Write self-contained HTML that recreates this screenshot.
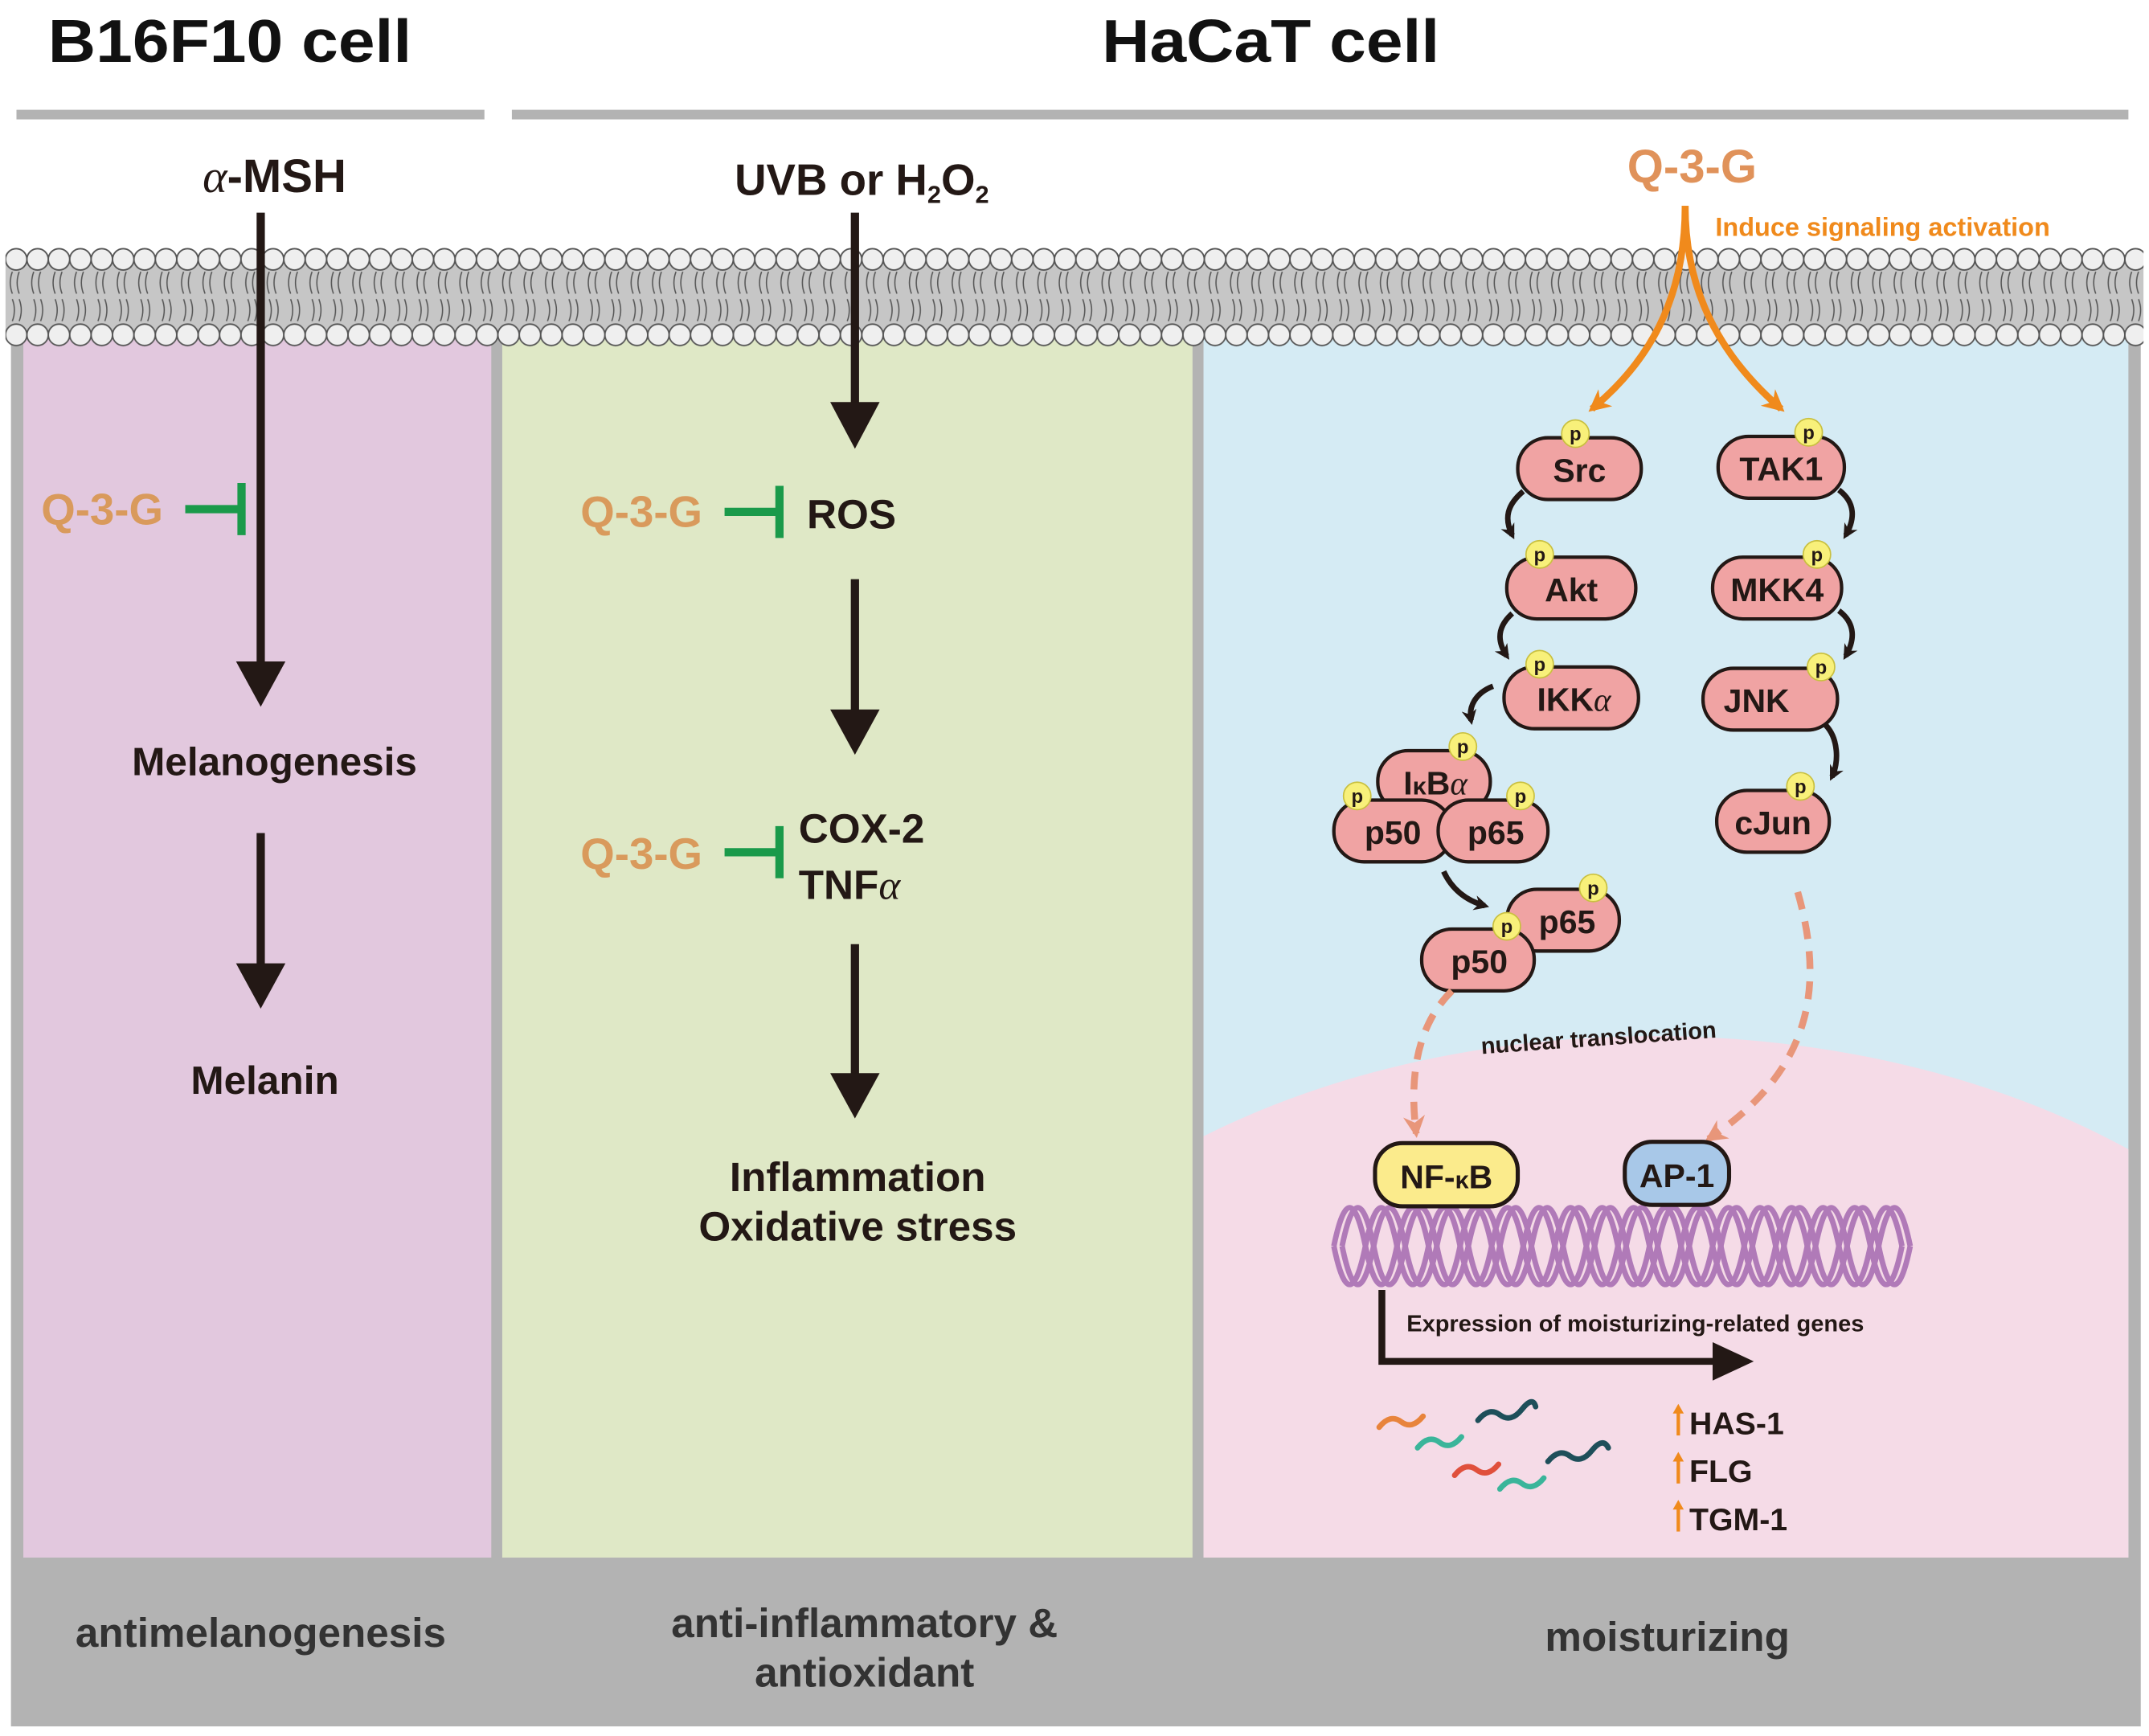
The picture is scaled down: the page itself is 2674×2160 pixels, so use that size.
<!DOCTYPE html>
<html><head><meta charset="utf-8"><style>
html,body{margin:0;padding:0;background:#fff;width:2674px;height:2160px;overflow:hidden;}
svg{display:block;position:absolute;left:0;top:0;}
text{font-family:"Liberation Sans",Arial,sans-serif;font-weight:bold;}
</style></head><body>
<svg width="2674" height="2160" viewBox="0 0 1566 1265" preserveAspectRatio="none" xmlns="http://www.w3.org/2000/svg">
<defs>
<pattern id="mem" x="4" y="176" width="15.6" height="80" patternUnits="userSpaceOnUse">
<rect x="0" y="14" width="15.6" height="52" fill="#c6c6c6"/>
<path d="M5 22 q-3 8 0 16 M10 22 q-3 8 0 16 M5 42 q3 8 0 16 M10 42 q3 8 0 16" stroke="#555" stroke-width="0.9" fill="none"/>
<circle cx="7.8" cy="13" r="7.8" fill="#efefef" stroke="#555" stroke-width="1.1"/>
<circle cx="7.8" cy="68" r="7.8" fill="#efefef" stroke="#555" stroke-width="1.1"/>
</pattern>
<marker id="oh" viewBox="0 0 10 10" refX="8" refY="5" markerWidth="16" markerHeight="16" orient="auto" markerUnits="userSpaceOnUse"><path d="M0 0 L10 5 L0 10 L3 5z" fill="#f08a1c"/></marker>
<marker id="ph" viewBox="0 0 10 10" refX="8" refY="5" markerWidth="16" markerHeight="16" orient="auto" markerUnits="userSpaceOnUse"><path d="M0 0 L10 5 L0 10 L3 5z" fill="#e8967a"/></marker>
<marker id="bh" viewBox="0 0 10 10" refX="7" refY="5" markerWidth="11" markerHeight="11" orient="auto" markerUnits="userSpaceOnUse"><path d="M0 0 L10 5 L0 10 L3 5z" fill="#231815"/></marker>
<clipPath id="blue"><rect x="877" y="245" width="674" height="890"/></clipPath>
<path id="sw" d="M0 0 q11.5 -56 23 0 t23 0 t23 0 t23 0 t23 0 t23 0 t23 0 t23 0 t23 0 t23 0 t23 0 t23 0 t23 0 t23 0 t23 0 t23 0 t23 0 t23 0"/>
<path id="sw2" d="M0 0 q11.5 56 23 0 t23 0 t23 0 t23 0 t23 0 t23 0 t23 0 t23 0 t23 0 t23 0 t23 0 t23 0 t23 0 t23 0 t23 0 t23 0 t23 0 t23 0"/>
</defs>

<text x="35" y="45" font-size="44" textLength="265" lengthAdjust="spacingAndGlyphs" fill="#111">B16F10 cell</text>
<text x="803" y="45" font-size="44" textLength="246" lengthAdjust="spacingAndGlyphs" fill="#111">HaCaT cell</text>
<rect x="12" y="80" width="341" height="7" fill="#b3b3b3"/>
<rect x="373" y="80" width="1178" height="7" fill="#b3b3b3"/>

<rect x="8" y="240" width="1552" height="1018" fill="#b3b3b3"/>
<rect x="17" y="240" width="341" height="895" fill="#e2c8de"/>
<rect x="366" y="240" width="503" height="895" fill="#dfe8c6"/>
<rect x="877" y="240" width="674" height="895" fill="#d5ebf4"/>
<ellipse cx="1205" cy="1110" rx="540" ry="355" fill="#f5dbe7" clip-path="url(#blue)"/>

<rect x="4" y="176" width="1558" height="80" fill="url(#mem)"/>

<text x="190" y="1200" font-size="30" text-anchor="middle" fill="#333">antimelanogenesis</text>
<text x="630" y="1193" font-size="30" text-anchor="middle" fill="#333">anti-inflammatory &amp;</text>
<text x="630" y="1229" font-size="30" text-anchor="middle" fill="#333">antioxidant</text>
<text x="1215" y="1203" font-size="30" text-anchor="middle" fill="#333">moisturizing</text>

<text x="200" y="140" font-size="34" text-anchor="middle" fill="#231815"><tspan font-family="Liberation Serif" font-weight="normal" font-style="italic">α</tspan>-MSH</text>
<line x1="190" y1="155" x2="190" y2="485" stroke="#231815" stroke-width="6"/>
<path d="M172 482 L208 482 L190 515z" fill="#231815"/>
<text x="30" y="382" font-size="32" fill="#d99a5c">Q-3-G</text>
<line x1="135" y1="371" x2="176" y2="371" stroke="#1a9a4a" stroke-width="6"/>
<line x1="176" y1="352" x2="176" y2="390" stroke="#1a9a4a" stroke-width="6"/>
<text x="200" y="565" font-size="29" text-anchor="middle" fill="#231815">Melanogenesis</text>
<line x1="190" y1="607" x2="190" y2="705" stroke="#231815" stroke-width="6"/>
<path d="M172 702 L208 702 L190 735z" fill="#231815"/>
<text x="193" y="797" font-size="29" text-anchor="middle" fill="#231815">Melanin</text>

<text x="628" y="142" font-size="32" text-anchor="middle" fill="#231815">UVB or H<tspan font-size="18" dy="6">2</tspan><tspan dy="-6">O</tspan><tspan font-size="18" dy="6">2</tspan></text>
<line x1="623" y1="155" x2="623" y2="296" stroke="#231815" stroke-width="6"/>
<path d="M605 293 L641 293 L623 327z" fill="#231815"/>
<text x="423" y="384" font-size="32" fill="#d99a5c">Q-3-G</text>
<line x1="528" y1="373" x2="568" y2="373" stroke="#1a9a4a" stroke-width="6"/>
<line x1="568" y1="354" x2="568" y2="392" stroke="#1a9a4a" stroke-width="6"/>
<text x="588" y="385" font-size="30" fill="#231815">ROS</text>
<line x1="623" y1="422" x2="623" y2="520" stroke="#231815" stroke-width="6"/>
<path d="M605 517 L641 517 L623 550z" fill="#231815"/>
<text x="423" y="633" font-size="32" fill="#d99a5c">Q-3-G</text>
<line x1="528" y1="621" x2="568" y2="621" stroke="#1a9a4a" stroke-width="6"/>
<line x1="568" y1="602" x2="568" y2="640" stroke="#1a9a4a" stroke-width="6"/>
<text x="582" y="614" font-size="30" fill="#231815">COX-2</text>
<text x="582" y="655" font-size="30" fill="#231815">TNF<tspan font-family="Liberation Serif" font-weight="normal" font-style="italic">α</tspan></text>
<line x1="623" y1="688" x2="623" y2="785" stroke="#231815" stroke-width="6"/>
<path d="M605 782 L641 782 L623 815z" fill="#231815"/>
<text x="625" y="868" font-size="30" text-anchor="middle" fill="#231815">Inflammation</text>
<text x="625" y="904" font-size="30" text-anchor="middle" fill="#231815">Oxidative stress</text>

<text x="1233" y="133" font-size="34" text-anchor="middle" fill="#e0925a">Q-3-G</text>
<text x="1250" y="172" font-size="19" fill="#f08a1c">Induce signaling activation</text>
<path d="M1228 150 C1228 220 1200 265 1160 298" stroke="#f08a1c" stroke-width="5" fill="none" marker-end="url(#oh)"/>
<path d="M1228 150 C1228 220 1260 265 1298 298" stroke="#f08a1c" stroke-width="5" fill="none" marker-end="url(#oh)"/>

<g stroke="#231815" stroke-width="4" fill="none" marker-end="url(#bh)">
<path d="M1110 358 C1098 368 1096 378 1102 390"/>
<path d="M1102 447 C1092 456 1090 466 1098 478"/>
<path d="M1088 500 C1075 505 1070 515 1072 525"/>
<path d="M1340 357 C1352 366 1352 378 1345 390"/>
<path d="M1340 445 C1352 454 1352 466 1345 478"/>
<path d="M1330 528 C1340 538 1340 556 1335 566"/>
<path d="M1052 635 C1058 648 1068 656 1082 660"/>
</g>

<g stroke="#231815" stroke-width="2.5" fill="#f0a3a3">
<rect x="1106" y="319" width="90" height="45" rx="22"/>
<rect x="1252" y="318" width="92" height="45" rx="22"/>
<rect x="1098" y="406" width="94" height="45" rx="22"/>
<rect x="1248" y="406" width="94" height="45" rx="22"/>
<rect x="1096" y="486" width="98" height="45" rx="22"/>
<rect x="1241" y="487" width="98" height="45" rx="22"/>
<rect x="1251" y="576" width="82" height="45" rx="22"/>
<rect x="1004" y="547" width="82" height="45" rx="22"/>
<rect x="972" y="583" width="86" height="45" rx="22"/>
<rect x="1048" y="583" width="80" height="45" rx="22"/>
<rect x="1098" y="648" width="82" height="45" rx="22"/>
<rect x="1036" y="677" width="82" height="45" rx="22"/>
</g>
<g font-size="24" fill="#231815" text-anchor="middle">
<text x="1151" y="351">Src</text>
<text x="1298" y="350">TAK1</text>
<text x="1145" y="438">Akt</text>
<text x="1295" y="438">MKK4</text>
<text x="1147" y="518">IKK<tspan font-family="Liberation Serif" font-weight="normal" font-style="italic">α</tspan></text>
<text x="1280" y="519">JNK</text>
<text x="1292" y="608">cJun</text>
<text x="1046" y="579">I<tspan font-size="18">κ</tspan>B<tspan font-family="Liberation Serif" font-weight="normal" font-style="italic">α</tspan></text>
<text x="1015" y="615">p50</text>
<text x="1090" y="615">p65</text>
<text x="1142" y="680">p65</text>
<text x="1078" y="709">p50</text>
</g>
<g fill="#f8f07a" stroke="#c9c040" stroke-width="1">
<circle cx="1148" cy="316" r="10"/><circle cx="1318" cy="315" r="10"/>
<circle cx="1122" cy="404" r="10"/><circle cx="1324" cy="404" r="10"/>
<circle cx="1122" cy="484" r="10"/><circle cx="1327" cy="486" r="10"/>
<circle cx="1312" cy="573" r="10"/><circle cx="1066" cy="544" r="10"/>
<circle cx="989" cy="580" r="10"/><circle cx="1108" cy="580" r="10"/>
<circle cx="1161" cy="647" r="10"/><circle cx="1098" cy="675" r="10"/>
</g>
<g font-size="14" fill="#231815" text-anchor="middle">
<text x="1148" y="321">p</text><text x="1318" y="320">p</text>
<text x="1122" y="409">p</text><text x="1324" y="409">p</text>
<text x="1122" y="489">p</text><text x="1327" y="491">p</text>
<text x="1312" y="578">p</text><text x="1066" y="549">p</text>
<text x="989" y="585">p</text><text x="1108" y="585">p</text>
<text x="1161" y="652">p</text><text x="1098" y="680">p</text>
</g>

<path d="M1058 722 C1040 740 1025 770 1032 826" stroke="#e8967a" stroke-width="5" stroke-dasharray="13 9" fill="none" marker-end="url(#ph)"/>
<path d="M1310 650 C1330 720 1320 780 1245 830" stroke="#e8967a" stroke-width="5" stroke-dasharray="13 9" fill="none" marker-end="url(#ph)"/>
<text x="1165" y="762" font-size="17" fill="#231815" text-anchor="middle" transform="rotate(-4 1165 757)">nuclear translocation</text>

<g stroke="#b07ab8" stroke-width="4" fill="none">
<use href="#sw" x="972" y="908"/>
<use href="#sw" x="978" y="908"/>
<use href="#sw2" x="972" y="908"/>
<use href="#sw2" x="978" y="908"/>
</g>
<rect x="1002" y="833" width="104" height="46" rx="20" fill="#fbeb8c" stroke="#231815" stroke-width="3"/>
<text x="1054" y="866" font-size="24" fill="#231815" text-anchor="middle">NF-<tspan font-size="18">κ</tspan>B</text>
<rect x="1184" y="832" width="76" height="46" rx="20" fill="#a8c8e8" stroke="#231815" stroke-width="3"/>
<text x="1222" y="865" font-size="24" fill="#231815" text-anchor="middle">AP-1</text>

<polyline points="1007,940 1007,992 1252,992" stroke="#231815" stroke-width="5" fill="none"/>
<path d="M1248 978 L1278 992 L1248 1006z" fill="#231815"/>
<text x="1025" y="970" font-size="17" fill="#231815">Expression of moisturizing-related genes</text>

<g stroke-width="4" fill="none" stroke-linecap="round">
<path d="M1005 1040 q8 -10 16 -4 t16 -4" stroke="#e8843c"/>
<path d="M1077 1035 q8 -10 16 -4 t16 -4 t10 -2" stroke="#1e4f5a"/>
<path d="M1033 1055 q8 -10 16 -4 t16 -4" stroke="#3ab59a"/>
<path d="M1060 1075 q8 -10 16 -4 t16 -4" stroke="#e0503c"/>
<path d="M1128 1065 q8 -10 16 -4 t16 -4 t12 -2" stroke="#1e4f5a"/>
<path d="M1093 1085 q8 -10 16 -4 t16 -4" stroke="#3ab59a"/>
</g>
<g stroke="#f08a1c" stroke-width="2.5">
<line x1="1223" y1="1046" x2="1223" y2="1028"/><line x1="1223" y1="1081" x2="1223" y2="1063"/><line x1="1223" y1="1116" x2="1223" y2="1098"/>
</g>
<g fill="#f08a1c"><path d="M1219 1030 L1223 1023 L1227 1030z"/><path d="M1219 1065 L1223 1058 L1227 1065z"/><path d="M1219 1100 L1223 1093 L1227 1100z"/></g>
<g font-size="23" fill="#231815">
<text x="1231" y="1045">HAS-1</text>
<text x="1231" y="1080">FLG</text>
<text x="1231" y="1115">TGM-1</text>
</g>
</svg>
</body></html>
